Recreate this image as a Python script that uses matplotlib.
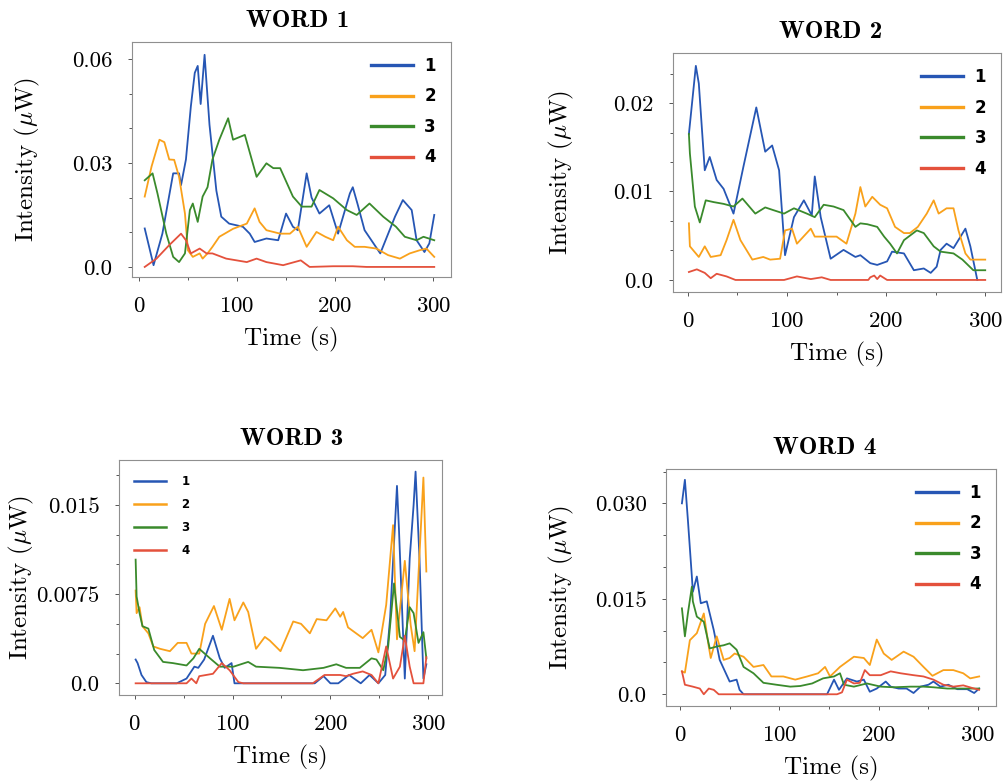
import matplotlib
import matplotlib.pyplot as plt
from matplotlib.ticker import FixedLocator, FixedFormatter, MultipleLocator
matplotlib.use("Agg")

plt.rcParams["font.family"] = ["cmr10", "DejaVu Serif"]
plt.rcParams["mathtext.fontset"] = "cm"
plt.rcParams["axes.formatter.use_mathtext"] = True

SERIES_NAMES = ["1", "2", "3", "4"]
COLORS = ["#2656b4", "#f9a11b", "#3a8a2c", "#e4513c"]
TITLES = ["WORD 1", "WORD 2", "WORD 3", "WORD 4"]
X_TICKS = [0, 100, 200, 300]
Y_TICKS = [[0, 0.03, 0.06], [0, 0.01, 0.02], [0, 0.0075, 0.015], [0, 0.015, 0.030]]
Y_TICK_LABELS = [["0.0", "0.03", "0.06"], ["0.0", "0.01", "0.02"],
                 ["0.0", "0.0075", "0.015"], ["0.0", "0.015", "0.030"]]

# (time s, intensity uW) samples per channel
w1_s1 = [(6, 0.0111), (15, 0.0005), (24, 0.0096), (35, 0.027), (41, 0.027), (43, 0.0236),
         (48, 0.031), (53, 0.0463), (57, 0.056), (60, 0.058), (63, 0.047), (67, 0.0612),
         (69, 0.053), (72, 0.041), (79, 0.022), (84, 0.0145), (92, 0.0125), (106, 0.0116),
         (113, 0.0096), (118, 0.0072), (130, 0.0082), (142, 0.0077), (150, 0.0154),
         (157, 0.0116), (162, 0.0106), (171, 0.027), (176, 0.020), (184, 0.0154),
         (194, 0.0178), (203, 0.0096), (215, 0.0212), (218, 0.023), (223, 0.018),
         (230, 0.0106), (246, 0.0039), (261, 0.0145), (269, 0.0193), (278, 0.0164),
         (283, 0.0077), (291, 0.0043), (296, 0.0068), (301, 0.015)]
w1_s2 = [(6, 0.0203), (13, 0.029), (21, 0.0367), (26, 0.036), (31, 0.031), (36, 0.0309),
         (41, 0.026), (47, 0.0154), (50, 0.0048), (55, 0.0029), (62, 0.0039), (65, 0.0024),
         (70, 0.0039), (75, 0.0058), (82, 0.0087), (96, 0.011), (110, 0.0125), (118, 0.0169),
         (123, 0.013), (130, 0.0106), (144, 0.0096), (154, 0.0096), (162, 0.0116),
         (171, 0.0058), (181, 0.0101), (190, 0.0087), (198, 0.0077), (203, 0.0116),
         (212, 0.0077), (220, 0.0058), (230, 0.0058), (242, 0.0053), (254, 0.0034),
         (266, 0.0024), (276, 0.0039), (286, 0.0048), (293, 0.0053), (301, 0.0029)]
w1_s3 = [(6, 0.025), (14, 0.027), (19, 0.0212), (28, 0.0096), (35, 0.0029), (41, 0.0014),
         (47, 0.0039), (52, 0.0164), (55, 0.0183), (60, 0.013), (65, 0.0203), (70, 0.023),
         (75, 0.031), (82, 0.0367), (91, 0.0429), (96, 0.0367), (108, 0.0381), (120, 0.026),
         (130, 0.0299), (137, 0.0285), (144, 0.0285), (157, 0.0203), (166, 0.0174),
         (176, 0.0174), (184, 0.0222), (198, 0.0198), (212, 0.0164), (222, 0.015),
         (235, 0.0183), (249, 0.0145), (262, 0.0116), (271, 0.0087), (283, 0.0077),
         (290, 0.0087), (301, 0.0077)]
w1_s4 = [(6, 0.0), (18, 0.0024), (31, 0.0063), (43, 0.0096), (48, 0.0077), (53, 0.0039),
         (62, 0.0053), (69, 0.0039), (75, 0.0039), (89, 0.0024), (110, 0.0014),
         (120, 0.0024), (130, 0.0014), (147, 0.0005), (165, 0.0019), (174, 0.0),
         (198, 0.0002), (218, 0.0002), (232, 0.0), (301, 0.0)]

w2_s1 = [(1, 0.0165), (8, 0.0242), (11, 0.0222), (17, 0.0124), (22, 0.0139), (29, 0.0113),
         (36, 0.0103), (46, 0.0075), (56, 0.0128), (69, 0.0195), (78, 0.0145), (85, 0.0152),
         (92, 0.0124), (98, 0.0028), (107, 0.0071), (117, 0.009), (125, 0.0073),
         (128, 0.0117), (134, 0.0071), (144, 0.0024), (157, 0.0034), (169, 0.0026),
         (174, 0.0028), (184, 0.0019), (191, 0.0017), (201, 0.0021), (206, 0.0032),
         (218, 0.003), (228, 0.0011), (238, 0.0013), (245, 0.0008), (251, 0.0015),
         (255, 0.0034), (261, 0.0041), (268, 0.0036), (280, 0.0058), (285, 0.0038),
         (292, 0.0)]
w2_s2 = [(1, 0.0064), (2, 0.0038), (11, 0.0026), (17, 0.0038), (23, 0.0026), (33, 0.0028),
         (39, 0.0045), (46, 0.0068), (53, 0.0045), (65, 0.0023), (76, 0.0026), (83, 0.0023),
         (93, 0.0024), (98, 0.0056), (105, 0.0058), (110, 0.0041), (124, 0.0058),
         (128, 0.0049), (140, 0.0049), (150, 0.0049), (160, 0.0041), (169, 0.0075),
         (174, 0.0105), (179, 0.0083), (186, 0.0094), (194, 0.0085), (201, 0.0081),
         (209, 0.006), (218, 0.0053), (224, 0.0053), (232, 0.006), (241, 0.0075),
         (248, 0.009), (253, 0.0075), (261, 0.0081), (268, 0.0081), (273, 0.0056),
         (280, 0.003), (285, 0.0023), (300, 0.0023)]
w2_s3 = [(1, 0.0165), (2, 0.0143), (7, 0.0083), (12, 0.0065), (18, 0.009), (26, 0.0088),
         (36, 0.0086), (46, 0.0083), (55, 0.0092), (68, 0.0075), (78, 0.0082), (86, 0.0079),
         (97, 0.0075), (107, 0.0081), (120, 0.0075), (128, 0.0071), (137, 0.0085),
         (147, 0.0083), (157, 0.0079), (169, 0.006), (174, 0.0064), (181, 0.0063),
         (191, 0.006), (198, 0.0049), (204, 0.0041), (211, 0.003), (218, 0.0045),
         (231, 0.0056), (238, 0.0053), (248, 0.0038), (255, 0.0032), (268, 0.003),
         (277, 0.0023), (288, 0.0011), (300, 0.0011)]
w2_s4 = [(1, 0.0009), (9, 0.0012), (17, 0.0008), (23, 0.0002), (29, 0.0007), (39, 0.0004),
         (48, 0.0), (97, 0.0), (110, 0.0004), (124, 0.0001), (135, 0.0003), (144, 0.0),
         (182, 0.0), (184, 0.0003), (188, 0.0005), (191, 0.0001), (194, 0.0005),
         (201, 0.0), (300, 0.0)]

w3_s1 = [(1, 0.002), (3, 0.0017), (7, 0.0007), (12, 0.0001), (17, 0.0), (43, 0.0),
         (53, 0.0004), (61, 0.0014), (65, 0.0013), (71, 0.002), (80, 0.004), (87, 0.0021),
         (92, 0.0013), (99, 0.0017), (102, 0.0), (184, 0.0), (193, 0.0006), (200, 0.0),
         (208, 0.0), (219, 0.0007), (231, 0.0), (240, 0.0007), (249, 0.0), (256, 0.0007),
         (261, 0.0055), (268, 0.0166), (270, 0.013), (276, 0.0004), (281, 0.0105),
         (285, 0.015), (287, 0.0178), (291, 0.0105), (295, 0.0004), (298, 0.0016)]
w3_s2 = [(1, 0.0078), (2, 0.0059), (5, 0.0064), (8, 0.0048), (14, 0.0042), (19, 0.0031),
         (26, 0.0029), (36, 0.0027), (44, 0.0034), (53, 0.0034), (58, 0.0025), (66, 0.0025),
         (72, 0.005), (81, 0.0065), (89, 0.0045), (97, 0.0071), (102, 0.0053), (111, 0.0068),
         (116, 0.006), (124, 0.0029), (133, 0.0039), (138, 0.0036), (149, 0.0027),
         (162, 0.0052), (170, 0.005), (179, 0.0042), (186, 0.0054), (196, 0.0053),
         (205, 0.0063), (210, 0.0056), (213, 0.006), (218, 0.0047), (233, 0.0038),
         (242, 0.0045), (249, 0.0026), (257, 0.0066), (264, 0.0133), (268, 0.0037),
         (276, 0.0103), (282, 0.0049), (286, 0.0027), (295, 0.0173), (298, 0.0094)]
w3_s3 = [(1, 0.0104), (2, 0.0073), (5, 0.0059), (8, 0.0048), (14, 0.0046), (20, 0.0028),
         (29, 0.0018), (39, 0.0017), (53, 0.0015), (60, 0.0021), (66, 0.0029), (77, 0.0021),
         (87, 0.0014), (101, 0.0014), (116, 0.0018), (124, 0.0014), (148, 0.0013),
         (172, 0.0011), (193, 0.0013), (206, 0.0016), (216, 0.0013), (230, 0.0013),
         (242, 0.0021), (247, 0.002), (254, 0.0011), (259, 0.0031), (265, 0.0084),
         (271, 0.0039), (276, 0.0036), (281, 0.0064), (285, 0.0059), (290, 0.0034),
         (295, 0.0043), (298, 0.0021)]
w3_s4 = [(1, 0.0), (53, 0.0), (58, 0.0004), (63, 0.0), (66, 0.0006), (80, 0.0008),
         (89, 0.0017), (97, 0.0011), (106, 0.0001), (111, 0.0), (182, 0.0), (194, 0.0007),
         (210, 0.0007), (216, 0.0006), (223, 0.0008), (233, 0.001), (242, 0.0007),
         (249, 0.0), (257, 0.0031), (264, 0.0004), (271, 0.0014), (276, 0.0040),
         (281, 0.0014), (285, 0.0), (295, 0.0), (298, 0.0022)]

w4_s1 = [(2, 0.030), (5, 0.0337), (8, 0.0274), (12, 0.0185), (13, 0.0161), (17, 0.0185),
         (21, 0.0143), (27, 0.0146), (34, 0.0101), (40, 0.0054), (50, 0.002), (57, 0.0023),
         (60, 0.0007), (64, 0.0), (148, 0.0), (155, 0.0023), (160, 0.0007), (168, 0.0025),
         (178, 0.002), (185, 0.0023), (191, 0.0004), (198, 0.0009), (207, 0.002),
         (212, 0.0012), (220, 0.0009), (228, 0.0009), (235, 0.0002), (242, 0.0012),
         (250, 0.0015), (255, 0.002), (262, 0.0012), (270, 0.0015), (279, 0.0008),
         (289, 0.0008), (296, 0.0002), (301, 0.0009)]
w4_s2 = [(2, 0.0036), (5, 0.0034), (10, 0.0085), (17, 0.0096), (24, 0.0127), (29, 0.0075),
         (31, 0.0057), (37, 0.0091), (44, 0.0054), (50, 0.0057), (55, 0.0064), (64, 0.0059),
         (74, 0.0043), (84, 0.0046), (92, 0.0028), (104, 0.0028), (116, 0.0023),
         (128, 0.0028), (139, 0.0033), (146, 0.0043), (151, 0.0028), (161, 0.0043),
         (175, 0.0059), (185, 0.0057), (191, 0.0046), (198, 0.0086), (205, 0.0064),
         (213, 0.0054), (225, 0.0067), (235, 0.0059), (245, 0.0043), (254, 0.0029),
         (265, 0.0038), (275, 0.0038), (285, 0.0033), (292, 0.0025), (301, 0.0028)]
w4_s3 = [(2, 0.0135), (5, 0.0091), (8, 0.0127), (12, 0.0169), (13, 0.0146), (17, 0.0122),
         (24, 0.0114), (30, 0.0072), (37, 0.0075), (44, 0.0077), (50, 0.008), (57, 0.007),
         (64, 0.0043), (74, 0.0033), (84, 0.0018), (97, 0.0015), (111, 0.0012),
         (121, 0.0013), (133, 0.0017), (144, 0.0025), (155, 0.0028), (161, 0.0033),
         (165, 0.0015), (175, 0.0012), (188, 0.0017), (202, 0.0012), (215, 0.0011),
         (232, 0.0012), (245, 0.0012), (255, 0.0011), (269, 0.0009), (282, 0.0009),
         (301, 0.0009)]
w4_s4 = [(2, 0.0036), (5, 0.0015), (13, 0.0012), (20, 0.0009), (24, 0.0), (29, 0.0009),
         (34, 0.0007), (39, 0.0), (158, 0.0), (163, 0.0003), (168, 0.0023), (175, 0.0017),
         (181, 0.0018), (186, 0.0038), (191, 0.003), (202, 0.003), (212, 0.0036),
         (222, 0.0033), (235, 0.003), (245, 0.0028), (255, 0.0023), (265, 0.0015),
         (275, 0.0012), (285, 0.0014), (296, 0.0009), (301, 0.0007)]

WORDS = [[w1_s1, w1_s2, w1_s3, w1_s4], [w2_s1, w2_s2, w2_s3, w2_s4],
         [w3_s1, w3_s2, w3_s3, w3_s4], [w4_s1, w4_s2, w4_s3, w4_s4]]

# axes boxes [left, bottom, width, height] and limits for each panel
BOXES = [[0.1313, 0.6458, 0.3174, 0.3005], [0.6697, 0.6266, 0.3264, 0.3056],
         [0.1184, 0.1113, 0.3214, 0.3005], [0.6627, 0.0972, 0.3284, 0.3031]]
XLIMS = [(-7, 318), (-15, 316), (-16, 314), (-14, 318)]
YLIMS = [(-0.0029, 0.0649), (-0.00136, 0.02565), (-0.00098, 0.01878), (-0.00184, 0.0354)]
TITLE_X = [0.52, 0.48, 0.535, 0.48]
YLABEL_X = [-0.282, -0.297, -0.257, -0.273]


def draw_word(fig, i):
    ax = fig.add_axes(BOXES[i])
    for data, name, color in zip(WORDS[i], SERIES_NAMES, COLORS):
        t, v = zip(*data)
        ax.plot(t, v, color=color, lw=1.3, label=name)
    ax.set_xlim(*XLIMS[i])
    ax.set_ylim(*YLIMS[i])

    ax.xaxis.set_major_locator(FixedLocator(X_TICKS))
    ax.xaxis.set_minor_locator(MultipleLocator(50))
    ax.yaxis.set_major_locator(FixedLocator(Y_TICKS[i]))
    ax.yaxis.set_major_formatter(FixedFormatter(Y_TICK_LABELS[i]))
    ax.yaxis.set_minor_locator(MultipleLocator(Y_TICKS[i][1] / 3))
    ax.tick_params(which="both", direction="out", color="#555555", width=0.7,
                   labelsize=16.5)
    ax.tick_params(which="major", length=3, pad=11)
    ax.tick_params(which="minor", length=2)
    for s in ax.spines.values():
        s.set_color("#8f8f8f")
        s.set_linewidth(0.8)

    ax.set_xlabel("Time (s)", fontsize=18, labelpad=8)
    ax.set_ylabel(r"Intensity ($\mu$W)", fontsize=18)
    ax.yaxis.set_label_coords(YLABEL_X[i], 0.5)
    ax.set_title(TITLES[i], fontsize=18, family="cmb10", pad=11, x=TITLE_X[i])

    if i == 2:
        leg = ax.legend(loc="upper left", frameon=False, handlelength=2.7,
                        handletextpad=1.3, labelspacing=0.85, borderaxespad=0.9,
                        prop={"family": "DejaVu Sans", "weight": "bold", "size": 8.5})
        lw = 1.8
    else:
        leg = ax.legend(loc="upper right", frameon=False, handlelength=2.5,
                        handletextpad=0.7, labelspacing=0.75,
                        prop={"family": "DejaVu Sans", "weight": "bold", "size": 12})
        lw = 2.4
    for line in leg.get_lines():
        line.set_linewidth(lw)


fig = plt.figure(figsize=(10.05, 7.82), dpi=100)
for k in range(4):
    draw_word(fig, k)
fig.savefig("out.png", dpi=100)
